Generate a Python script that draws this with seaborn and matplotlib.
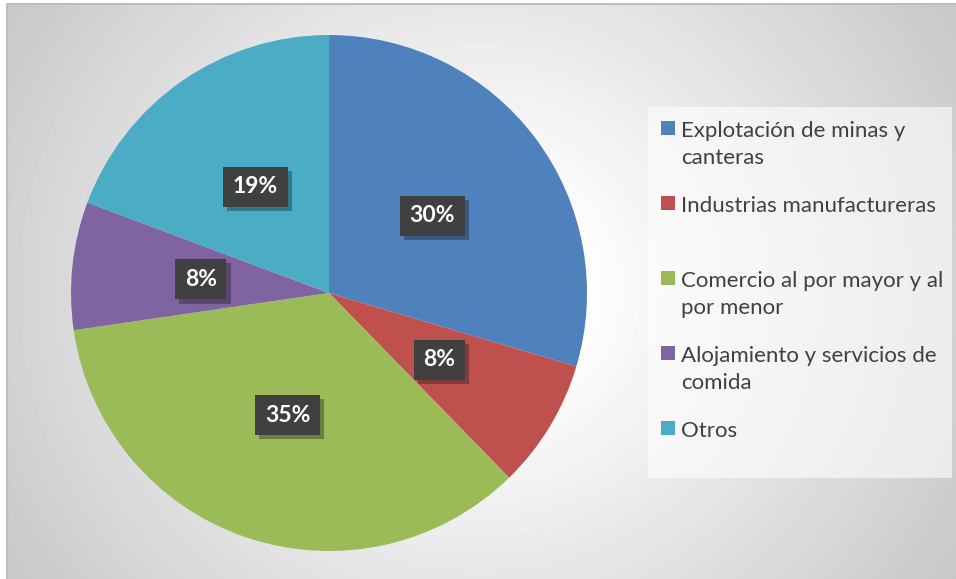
import numpy as np
import matplotlib
matplotlib.use("Agg")
import matplotlib.pyplot as plt
import matplotlib.patheffects as pe
from matplotlib.patches import Rectangle
import seaborn as sns

# data
categories = ["Explotación de minas y\ncanteras",
              "Industrias manufactureras",
              "Comercio al por mayor y al\npor menor",
              "Alojamiento y servicios de\ncomida",
              "Otros"]
shares = [29.6, 8.1, 35.0, 8.0, 19.3]
colors = ["#4F81BD", "#C0504D", "#9BBB59", "#8064A2", "#4BACC6"]

sns.set_theme(style="white")
plt.rcParams["font.family"] = ["Lato", "DejaVu Sans"]

W, H = 956, 579
fig = plt.figure(figsize=(W / 100, H / 100), dpi=100, facecolor="white")

# chart area with radial grey gradient
bg = fig.add_axes([7 / W, 0, 1 - 7 / W, 1 - 4 / H])
yy, xx = np.mgrid[0:575, 0:949]
r = np.hypot(xx - 473, (yy - 286) * 1.05)
shade = np.clip(267 - 0.119 * r, 0, 255) / 255
bg.imshow(shade, cmap="gray", vmin=0, vmax=1, aspect="auto",
          extent=(0, 1, 0, 1), origin="upper")
bg.set_axis_off()
bg.plot([0, 0, 1], [0, 1, 1], color="#bdbdbd", lw=1.5,
        transform=bg.transAxes, clip_on=False)

# legend background panel
fig.patches.append(Rectangle((648 / W, 1 - 478 / H), 304 / W, 371 / H,
                             transform=fig.transFigure, fc="white",
                             alpha=0.6, ec="none", zorder=1))

# pie
ax = fig.add_axes([(329 - 258) / W, (H - 293 - 258) / H, 516 / W, 516 / H])
wedges, texts, autotexts = ax.pie(
    shares, colors=colors, startangle=90, counterclock=False,
    autopct="%.0f%%", pctdistance=0.5, radius=1,
    wedgeprops=dict(linewidth=0),
    textprops=dict(color="white", fontsize=16.5, fontweight="bold"))
ax.set_xlim(-1, 1)
ax.set_ylim(-1, 1)
ax.set_aspect("auto")
ax.patch.set_alpha(0)

for t in autotexts:
    t.set_bbox(dict(boxstyle="square,pad=0.42", fc="#404040", ec="none"))
    t.get_bbox_patch().set_path_effects(
        [pe.SimplePatchShadow(offset=(3, -3), alpha=0.35), pe.Normal()])

# single-line entries take a two-line slot, as in the original legend
labels = [c if "\n" in c else c + "\n" for c in categories]
labels[-1] = categories[-1]
leg = fig.legend(wedges, labels, loc="upper left",
                 bbox_to_anchor=(661 / W, 1 - 121 / H),
                 fontsize=16, frameon=False,
                 handlelength=0.62, handleheight=0.62, handletextpad=0.28,
                 labelspacing=1.25, borderpad=0, borderaxespad=0)
for t in leg.get_texts():
    t.set_color("#404040")
    t.set_linespacing(1.45)
for col in leg._legend_handle_box.get_children():
    for row in col.get_children():
        row.align = "top"

fig.savefig("out.png", dpi=100, facecolor="white")
